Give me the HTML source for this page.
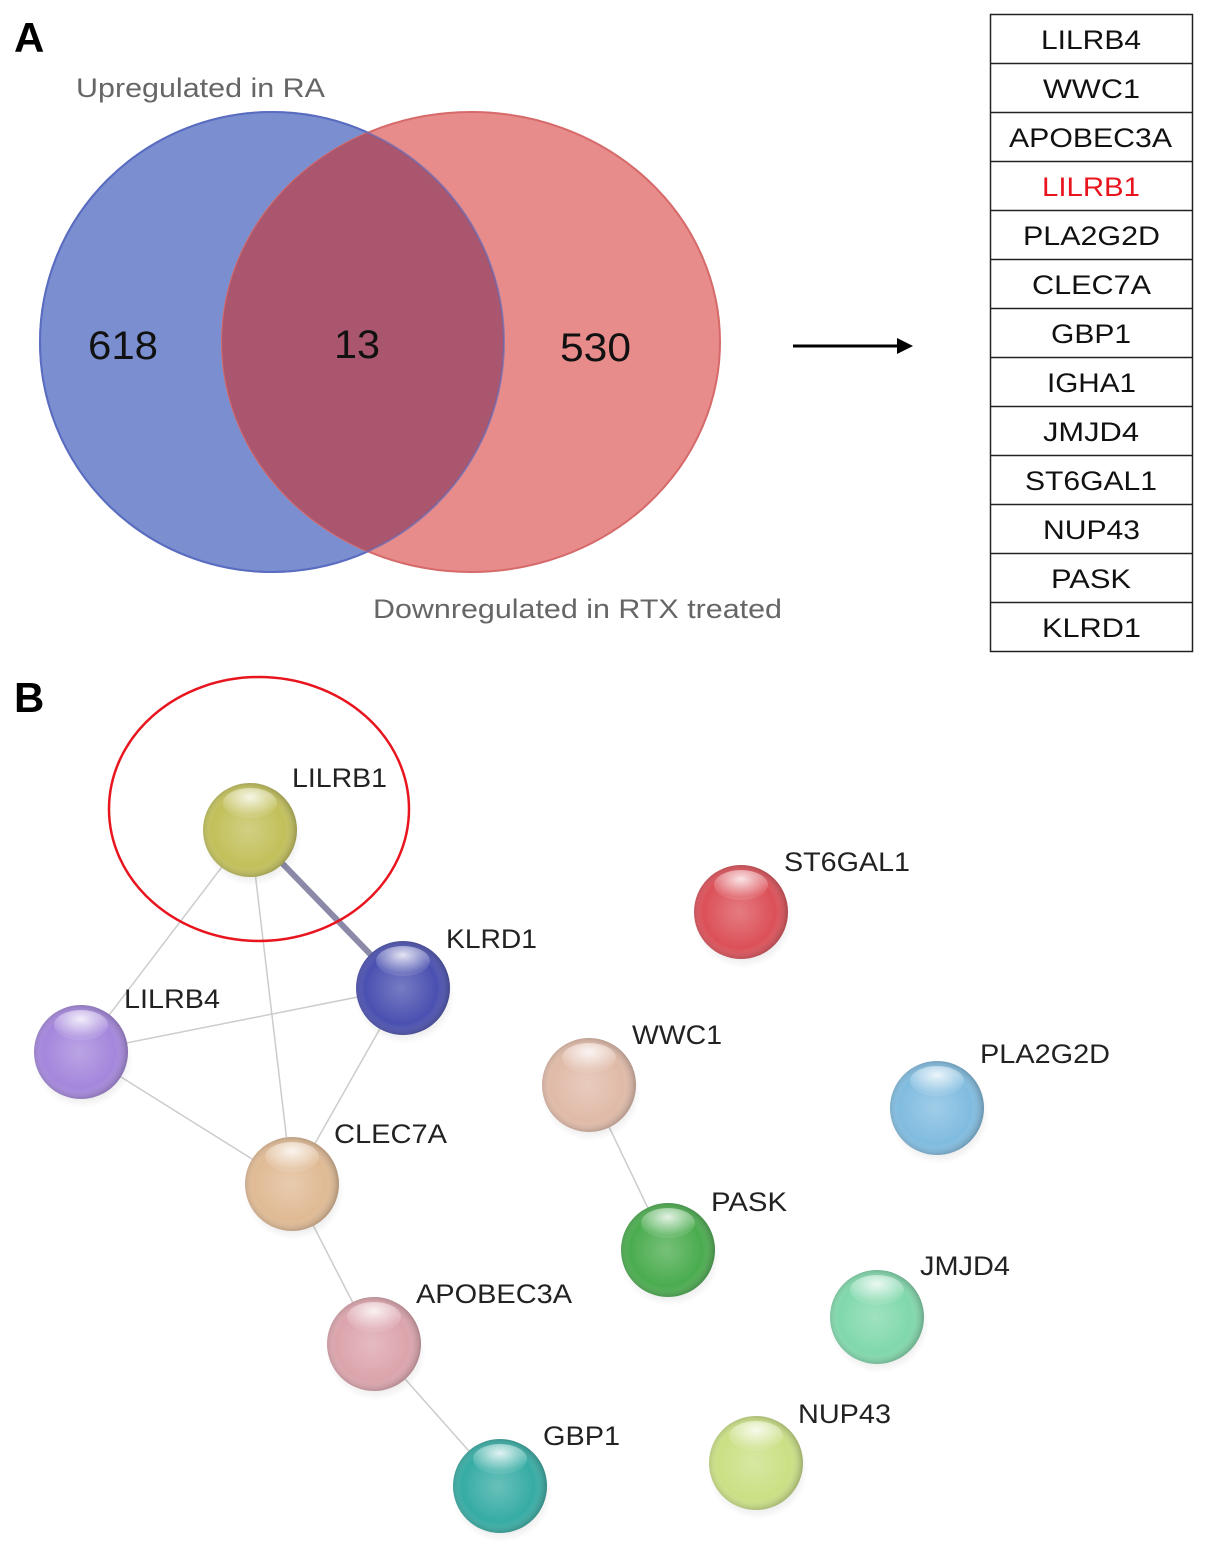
<!DOCTYPE html>
<html><head><meta charset="utf-8"><style>
html,body{margin:0;padding:0;background:#fff;}
svg{display:block;}
</style></head><body>
<svg width="1205" height="1556" viewBox="0 0 1205 1556" xmlns="http://www.w3.org/2000/svg" font-family="Liberation Sans, Arial, sans-serif">
<defs>
<radialGradient id="shine" cx="50%" cy="30%" r="60%">
<stop offset="0" stop-color="#fff" stop-opacity="0.85"/>
<stop offset="1" stop-color="#fff" stop-opacity="0.1"/>
</radialGradient>
<radialGradient id="shade" cx="48%" cy="50%" r="55%">
<stop offset="0" stop-color="#fff" stop-opacity="0.25"/>
<stop offset="0.7" stop-color="#fff" stop-opacity="0"/>
<stop offset="1" stop-color="#000" stop-opacity="0.35"/>
</radialGradient>
<radialGradient id="shadow" cx="50%" cy="50%" r="50%">
<stop offset="0" stop-color="#000" stop-opacity="0.35"/>
<stop offset="1" stop-color="#000" stop-opacity="0"/>
</radialGradient>
<g id="gl"><ellipse cx="2" cy="8" rx="50" ry="48" fill="url(#shadow)"/></g>
<g id="hl"><circle r="47" fill="url(#shade)"/><ellipse cy="-27" rx="27" ry="15" fill="url(#shine)"/></g>
</defs>
<!-- Panel A -->
<text x="14" y="52" font-size="42" font-weight="bold" fill="#000">A</text>
<text x="76" y="97" font-size="27" fill="#666" textLength="249" lengthAdjust="spacingAndGlyphs">Upregulated in RA</text>
<ellipse cx="272" cy="342" rx="232" ry="230" fill="#7b8fd0" stroke="#5a6cc0" stroke-width="2"/>
<ellipse cx="471" cy="342" rx="249" ry="230" fill="#e88b8b" stroke="#d66a6a" stroke-width="2"/>
<clipPath id="cb"><ellipse cx="272" cy="342" rx="232" ry="230"/></clipPath>
<ellipse cx="471" cy="342" rx="249" ry="230" fill="#a9566e" clip-path="url(#cb)"/>
<ellipse cx="272" cy="342" rx="232" ry="230" fill="none" stroke="#5a6cc0" stroke-width="2" opacity="0.6"/>
<text x="88" y="359" font-size="40" fill="#111" textLength="70" lengthAdjust="spacingAndGlyphs">618</text>
<text x="334" y="358" font-size="40" fill="#111" textLength="46" lengthAdjust="spacingAndGlyphs">13</text>
<text x="560" y="361" font-size="40" fill="#111" textLength="71" lengthAdjust="spacingAndGlyphs">530</text>
<text x="373" y="618" font-size="27" fill="#666" textLength="409" lengthAdjust="spacingAndGlyphs">Downregulated in RTX treated</text>
<line x1="793" y1="346" x2="900" y2="346" stroke="#000" stroke-width="3"/>
<polygon points="913,346 897,338 897,354" fill="#000"/>
<g font-size="27" fill="#111">
<rect x="990.5" y="14.5" width="202" height="637" fill="none" stroke="#222" stroke-width="1.5"/>
<g stroke="#222" stroke-width="1.5">
<line x1="990" y1="63.5" x2="1193" y2="63.5"/><line x1="990" y1="112.5" x2="1193" y2="112.5"/>
<line x1="990" y1="161.5" x2="1193" y2="161.5"/><line x1="990" y1="210.5" x2="1193" y2="210.5"/>
<line x1="990" y1="259.5" x2="1193" y2="259.5"/><line x1="990" y1="308.5" x2="1193" y2="308.5"/>
<line x1="990" y1="357.5" x2="1193" y2="357.5"/><line x1="990" y1="406.5" x2="1193" y2="406.5"/>
<line x1="990" y1="455.5" x2="1193" y2="455.5"/><line x1="990" y1="504.5" x2="1193" y2="504.5"/>
<line x1="990" y1="553.5" x2="1193" y2="553.5"/><line x1="990" y1="602.5" x2="1193" y2="602.5"/>
</g>
<text x="1041" y="49" textLength="100" lengthAdjust="spacingAndGlyphs">LILRB4</text>
<text x="1043" y="98" textLength="97" lengthAdjust="spacingAndGlyphs">WWC1</text>
<text x="1009" y="147" textLength="163" lengthAdjust="spacingAndGlyphs">APOBEC3A</text>
<text x="1042" y="196" fill="#e8141e" textLength="98" lengthAdjust="spacingAndGlyphs">LILRB1</text>
<text x="1023" y="245" textLength="137" lengthAdjust="spacingAndGlyphs">PLA2G2D</text>
<text x="1032" y="294" textLength="119" lengthAdjust="spacingAndGlyphs">CLEC7A</text>
<text x="1051" y="343" textLength="80" lengthAdjust="spacingAndGlyphs">GBP1</text>
<text x="1047" y="392" textLength="89" lengthAdjust="spacingAndGlyphs">IGHA1</text>
<text x="1043" y="441" textLength="96" lengthAdjust="spacingAndGlyphs">JMJD4</text>
<text x="1025" y="490" textLength="132" lengthAdjust="spacingAndGlyphs">ST6GAL1</text>
<text x="1043" y="539" textLength="97" lengthAdjust="spacingAndGlyphs">NUP43</text>
<text x="1051" y="588" textLength="80" lengthAdjust="spacingAndGlyphs">PASK</text>
<text x="1042" y="637" textLength="99" lengthAdjust="spacingAndGlyphs">KLRD1</text>
</g>
<!-- Panel B -->
<text x="14" y="712" font-size="42" font-weight="bold" fill="#000">B</text>
<g stroke="#ccc" stroke-width="1.5">
<line x1="250" y1="830" x2="81" y2="1052"/>
<line x1="250" y1="830" x2="292" y2="1184"/>
<line x1="81" y1="1052" x2="403" y2="988"/>
<line x1="81" y1="1052" x2="292" y2="1184"/>
<line x1="403" y1="988" x2="292" y2="1184"/>
<line x1="292" y1="1184" x2="374" y2="1344"/>
<line x1="374" y1="1344" x2="500" y2="1486"/>
<line x1="589" y1="1085" x2="668" y2="1250"/>
</g>
<line x1="250" y1="830" x2="403" y2="988" stroke="#8a8aa8" stroke-width="6"/>
<ellipse cx="259" cy="809" rx="150" ry="132" fill="none" stroke="#e8141e" stroke-width="2.5"/>
<g>
<g transform="translate(250,830)"><use href="#gl"/><circle r="47" fill="#c2c05a"/><use href="#hl"/></g>
<g transform="translate(403,988)"><use href="#gl"/><circle r="47" fill="#4a50b0"/><use href="#hl"/></g>
<g transform="translate(81,1052)"><use href="#gl"/><circle r="47" fill="#a486dc"/><use href="#hl"/></g>
<g transform="translate(292,1184)"><use href="#gl"/><circle r="47" fill="#e0ba94"/><use href="#hl"/></g>
<g transform="translate(374,1344)"><use href="#gl"/><circle r="47" fill="#dca4ac"/><use href="#hl"/></g>
<g transform="translate(500,1486)"><use href="#gl"/><circle r="47" fill="#36aca4"/><use href="#hl"/></g>
<g transform="translate(741,912)"><use href="#gl"/><circle r="47" fill="#dc5058"/><use href="#hl"/></g>
<g transform="translate(589,1085)"><use href="#gl"/><circle r="47" fill="#e0baa8"/><use href="#hl"/></g>
<g transform="translate(668,1250)"><use href="#gl"/><circle r="47" fill="#4aac4e"/><use href="#hl"/></g>
<g transform="translate(937,1108)"><use href="#gl"/><circle r="47" fill="#80bce0"/><use href="#hl"/></g>
<g transform="translate(877,1317)"><use href="#gl"/><circle r="47" fill="#80d8ac"/><use href="#hl"/></g>
<g transform="translate(756,1463)"><use href="#gl"/><circle r="47" fill="#cae084"/><use href="#hl"/></g>
</g>
<g font-size="27" fill="#222">
<text x="292" y="787" textLength="95" lengthAdjust="spacingAndGlyphs">LILRB1</text>
<text x="446" y="948" textLength="91" lengthAdjust="spacingAndGlyphs">KLRD1</text>
<text x="124" y="1008" textLength="96" lengthAdjust="spacingAndGlyphs">LILRB4</text>
<text x="334" y="1143" textLength="113" lengthAdjust="spacingAndGlyphs">CLEC7A</text>
<text x="416" y="1303" textLength="156" lengthAdjust="spacingAndGlyphs">APOBEC3A</text>
<text x="543" y="1445" textLength="77" lengthAdjust="spacingAndGlyphs">GBP1</text>
<text x="784" y="871" textLength="126" lengthAdjust="spacingAndGlyphs">ST6GAL1</text>
<text x="632" y="1044" textLength="90" lengthAdjust="spacingAndGlyphs">WWC1</text>
<text x="711" y="1211" textLength="76" lengthAdjust="spacingAndGlyphs">PASK</text>
<text x="980" y="1063" textLength="130" lengthAdjust="spacingAndGlyphs">PLA2G2D</text>
<text x="920" y="1275" textLength="90" lengthAdjust="spacingAndGlyphs">JMJD4</text>
<text x="798" y="1423" textLength="93" lengthAdjust="spacingAndGlyphs">NUP43</text>
</g>
</svg>
</body></html>
